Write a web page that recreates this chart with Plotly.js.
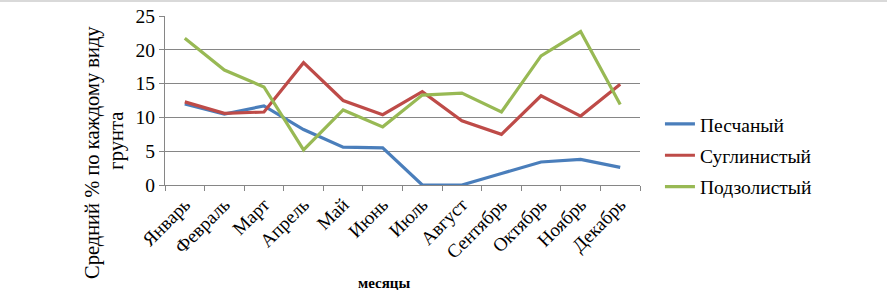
<!DOCTYPE html>
<html>
<head>
<meta charset="utf-8">
<script src="https://cdn.plot.ly/plotly-3.0.1.min.js"></script>
<style>
html,body{margin:0;padding:0;background:#fff;}
#chart{width:887px;height:290px;}
#topline{position:absolute;left:0;top:0;width:887px;height:2px;background:#d9d9d9;}
</style>
</head>
<body>
<div id="chart"></div>
<div id="topline"></div>
<script>
const months = ["Январь","Февраль","Март","Апрель","Май","Июнь","Июль","Август","Сентябрь","Октябрь","Ноябрь","Декабрь"];
const sandy = [12.0, 10.5, 11.7, 8.2, 5.6, 5.5, 0, 0, 1.7, 3.4, 3.8, 2.6];
const loamy = [12.3, 10.6, 10.8, 18.1, 12.5, 10.4, 13.8, 9.5, 7.5, 13.2, 10.2, 14.9];
const podzolic = [21.7, 17.0, 14.5, 5.2, 11.1, 8.6, 13.3, 13.6, 10.8, 19.1, 22.7, 11.9];
const seriesNames = ["Песчаный","Суглинистый","Подзолистый"];
const yTicks = [0,5,10,15,20,25];
const yTitleLines = ["Средний % по каждому виду","грунта"];
const xTitle = "месяцы";

const font = "Liberation Serif";
const colors = ["#4a7ebb","#be4b48","#98b954"];
const data = [sandy, loamy, podzolic].map((v,i)=>({
  x: months, y: v, type: "scatter", mode: "lines", name: seriesNames[i],
  legendgroup: "g"+i,
  line: {color: colors[i], width: 3.2}
}));

const layout = {
  width: 887, height: 290,
  margin: {l:165, r:247, t:16, b:105},
  paper_bgcolor: "#fff", plot_bgcolor: "#fff",
  font: {family: font, size: 19, color: "#000"},
  showlegend: true,
  legend: {x: 1.042, xanchor: "left", y: 0.475, yanchor: "top",
           traceorder: "grouped", tracegroupgap: 3,
           font: {family: font, size: 19.5, color: "#000"}, bgcolor: "rgba(0,0,0,0)"},
  xaxis: {
    type: "category", range: [-0.5, 11.5], tickson: "boundaries",
    ticks: "outside", ticklen: 5, tickcolor: "#868686", tickwidth: 1,
    showline: true, linecolor: "#868686", linewidth: 1,
    showgrid: false, tickangle: -45, automargin: false,
    tickfont: {family: font, size: 19, color: "#000"}
  },
  yaxis: {
    range: [0, 25], tickvals: yTicks, ticktext: yTicks.map(String),
    ticks: "outside", ticklen: 5, tickcolor: "#868686",
    showline: true, linecolor: "#868686", linewidth: 1,
    showgrid: true, gridcolor: "#868686", gridwidth: 1, zeroline: false,
    automargin: false,
    tickfont: {family: font, size: 19.5, color: "#000"}
  },
  annotations: [
    {text: yTitleLines[0], xref: "paper", yref: "paper",
     x: -0.1537, y: 0.195, xanchor: "center", yanchor: "middle", textangle: -90,
     showarrow: false, font: {family: font, size: 20.5, color: "#000"}},
    {text: yTitleLines[1], xref: "paper", yref: "paper",
     x: -0.104, y: 0.26, xanchor: "center", yanchor: "middle", textangle: -90,
     showarrow: false, font: {family: font, size: 20.5, color: "#000"}},
    {text: "<b>" + xTitle + "</b>", xref: "paper", yref: "paper",
     x: 0.46, y: -0.58, xanchor: "center", yanchor: "middle",
     showarrow: false, font: {family: font, size: 15, color: "#000"}}
  ]
};
Plotly.newPlot("chart", data, layout, {staticPlot: true, displayModeBar: false});
</script>
</body>
</html>
